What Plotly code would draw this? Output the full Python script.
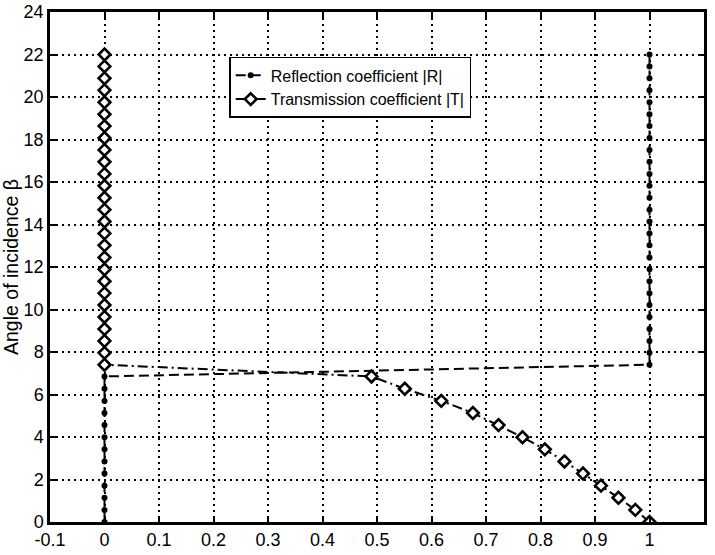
import plotly.graph_objects as go

# Angle of incidence (beta) sampled values
beta_low = [0.00, 0.57, 1.14, 1.71, 2.28, 2.85, 3.42, 3.99, 4.56, 5.13, 5.70, 6.27, 6.85]
beta_high = [7.40, 7.96, 8.52, 9.08, 9.65, 10.21, 10.77, 11.33, 11.89, 12.45, 13.02,
             13.58, 14.14, 14.70, 15.26, 15.82, 16.38, 16.95, 17.51, 18.07, 18.63,
             19.19, 19.75, 20.32, 20.88, 21.44, 22.00]
beta = beta_low + beta_high

# Reflection coefficient |R|
refl_low = [0.0] * len(beta_low)
refl_high = [1.0] * len(beta_high)
refl = refl_low + refl_high

# Transmission coefficient |T|
trans_low = [1.000, 0.974, 0.943, 0.911, 0.878, 0.844, 0.808, 0.767, 0.723, 0.676,
             0.618, 0.551, 0.490]
trans_high = [0.0] * len(beta_high)
trans = trans_low + trans_high

x_ticks = [-0.1, 0, 0.1, 0.2, 0.3, 0.4, 0.5, 0.6, 0.7, 0.8, 0.9, 1, 1.1]
x_tick_text = ["-0.1", "0", "0.1", "0.2", "0.3", "0.4", "0.5", "0.6", "0.7", "0.8",
               "0.9", "1", "1.1"]
y_ticks = list(range(0, 25, 2))

FONT = "Liberation Sans, Arial, Helvetica, sans-serif"

fig = go.Figure()
fig.add_trace(go.Scatter(
    x=refl, y=beta, mode="lines+markers",
    name="Reflection coefficient |R|",
    line=dict(color="black", width=2, dash="10px,5px"),
    marker=dict(symbol="circle", size=6, color="black"),
))
fig.add_trace(go.Scatter(
    x=trans, y=beta, mode="lines+markers",
    name="Transmission coefficient |T|",
    line=dict(color="black", width=2, dash="10px,4px,2px,4px"),
    marker=dict(symbol="diamond", size=9, color="white",
                line=dict(color="black", width=2.6)),
))

axis_common = dict(
    showline=True, linecolor="black", linewidth=2.5, mirror="ticks",
    ticks="inside", ticklen=6, tickwidth=2, tickcolor="black",
    showgrid=True, gridcolor="black", gridwidth=1.5, griddash="2px,4px",
    zeroline=False, automargin=False,
    tickfont=dict(family=FONT, size=18, color="black"),
)

fig.update_xaxes(range=[-0.1, 1.1], tickvals=x_ticks, ticktext=x_tick_text,
                 **axis_common)
fig.update_yaxes(range=[0, 24], tickvals=y_ticks,
                 title=dict(text="Angle of incidence β",
                            font=dict(family=FONT, size=19.5, color="black"),
                            standoff=4),
                 **axis_common)

fig.update_layout(
    width=715, height=555,
    margin=dict(l=50, r=11, t=12, b=33),
    paper_bgcolor="white", plot_bgcolor="white",
    font=dict(family=FONT, size=18, color="black"),
    showlegend=True,
    legend=dict(x=0.274, y=0.912, xanchor="left", yanchor="top",
                bgcolor="white", bordercolor="black", borderwidth=1.5,
                font=dict(family=FONT, size=16, color="black"),
                itemwidth=30, tracegroupgap=0),
)

fig.write_html("out.html")
